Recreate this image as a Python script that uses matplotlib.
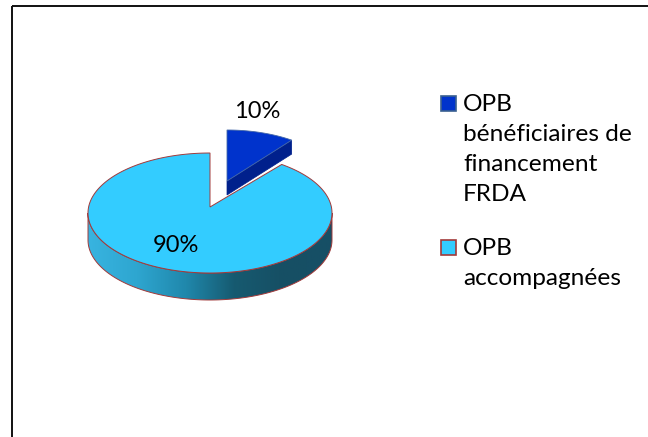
import numpy as np
import matplotlib
matplotlib.use("Agg")
import matplotlib.pyplot as plt
from matplotlib.colors import LinearSegmentedColormap
from matplotlib.patches import Polygon, Rectangle

plt.rcParams['font.family'] = ['Lato', 'DejaVu Sans']

# data
labels = ["OPB\nbénéficiaires de\nfinancement\nFRDA", "OPB\naccompagnées"]
values = [10, 90]
pct_text = ["10%", "90%"]

# everything is placed in pixels of the 648x437 picture
W, H = 648, 437
fig = plt.figure(figsize=(W / 100, H / 100), dpi=100)
ax = fig.add_axes([0, 0, 1, 1])

# main pie geometry
cx, cy = 210, 213
a, b = 122, 60
depth = 27
apex_up = 6  # the notch point sits a bit above the ellipse centre

# exploded slice geometry
sx, sy = 227, 183
sa, sb = 110, 53
sdepth = 14

blue_top = "#0033CC"
blue_side = "#00208C"
cyan_top = "#33CCFF"
red_edge = "#A23A3A"

angle_small = 2 * np.pi * values[0] / sum(values)


def arc(x0, y0, rx, ry, t0, t1, n=200):
    # angles clockwise from 12 o'clock
    t = np.linspace(t0, t1, n)
    return np.column_stack([x0 + rx * np.sin(t), y0 - ry * np.cos(t)])


# small slice: side face first, then top
s_apex = np.array([sx, sy - 2])
s_arc = arc(sx, sy, sa, sb, 0, angle_small)
s_corner = s_arc[-1]
side = np.array([s_apex, s_corner, s_corner + [0, sdepth], s_apex + [0, sdepth]])
ax.add_patch(Polygon(side, closed=True, fc=blue_side, ec=blue_side, lw=0.5, zorder=2))
ax.add_patch(Polygon(np.vstack([s_apex, s_arc]), closed=True, fc=blue_top,
                     ec="#4468A8", lw=0.6, zorder=3))

# big slice: wall with a shading from left to right
wall_arc = arc(cx, cy, a, b, np.pi / 2, 3 * np.pi / 2)
wall = np.vstack([wall_arc, (wall_arc + [0, depth])[::-1]])
wall_cmap = LinearSegmentedColormap.from_list(
    "wall", ["#38B4E0", "#2EA6D0", "#2088AC", "#165A70", "#164F64", "#174F66"])
grad = np.linspace(0, 1, 256).reshape(1, -1)
im = ax.imshow(grad, cmap=wall_cmap, extent=[cx - a, cx + a, cy + b + depth, cy - b],
               aspect="auto", zorder=4)
wall_patch = Polygon(wall, closed=True, fc="none", ec=red_edge, lw=0.7, zorder=5)
ax.add_patch(wall_patch)
im.set_clip_path(wall_patch)

# big slice: top
m_arc = arc(cx, cy, a, b, angle_small, 2 * np.pi, 400)
m_top = np.vstack([[cx, cy - apex_up], m_arc])
ax.add_patch(Polygon(m_top, closed=True, fc=cyan_top, ec=red_edge, lw=0.7, zorder=6))

# percent labels
ax.text(257, 112, pct_text[0], fontsize=17, color="black", ha="center", va="center", zorder=7)
ax.text(176, 245, pct_text[1], fontsize=17, color="black", ha="center", va="center", zorder=7)

# legend drawn by hand
ax.add_patch(Rectangle((440.5, 95.5), 15, 15, fc=blue_top, ec="#3A6090", lw=1.2))
ax.add_patch(Rectangle((440.5, 239.5), 15, 15, fc=cyan_top, ec=red_edge, lw=1.2))
ax.text(463, 94, labels[0], fontsize=17.6, color="black", ha="left", va="top", linespacing=1.53)
ax.text(463, 238, labels[1], fontsize=17.6, color="black", ha="left", va="top", linespacing=1.53)

# only the top and left of the frame are in the picture
ax.plot([12, 12], [6, H], color="#111111", lw=1.4, solid_capstyle="butt")
ax.plot([12, W], [6, 6], color="#111111", lw=1.4, solid_capstyle="butt")

ax.set_xlim(0, W)
ax.set_ylim(H, 0)
ax.axis("off")

fig.savefig("out.png", dpi=100, facecolor="white")
